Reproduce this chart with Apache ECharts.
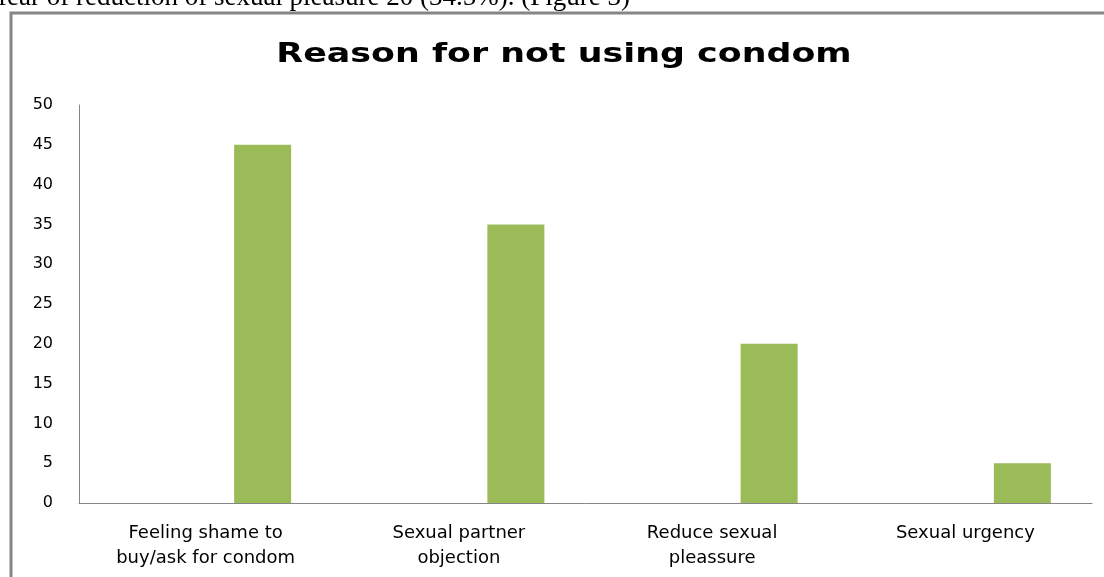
<!DOCTYPE html>
<html>
<head>
<meta charset="utf-8">
<style>
  html, body { margin: 0; padding: 0; background: #fff; }
  #chart { width: 1104px; height: 577px; }
</style>
<script src="https://cdn.jsdelivr.net/npm/echarts@6/dist/echarts.min.js"></script>
</head>
<body>
<div id="chart"></div>
<script>
var categories = ['Feeling shame to\nbuy/ask for condom', 'Sexual partner\nobjection', 'Reduce sexual\npleassure', 'Sexual urgency'];
var series1Values = [null, null, null, null];
var series2Values = [null, null, null, null];
var series3Values = [45, 35, 20, 5];
var yTicks = { min: 0, max: 50, interval: 5 };
var titleText = 'Reason for not using condom';
var pageText = 'fear of reduction of sexual pleasure 20 (34.5%). (Figure 3)';

var chart = echarts.init(document.getElementById('chart'));
var labelFont = '"DejaVu Sans", Verdana, sans-serif';
chart.setOption({
  animation: false,
  backgroundColor: '#ffffff',
  graphic: [
    { type: 'rect', shape: { x: 11, y: 13, width: 1300, height: 800 }, style: { fill: 'none', stroke: '#868686', lineWidth: 3 }, z: 10 },
    { type: 'text', x: -2, y: 11, style: { text: pageText, font: '27px "Liberation Serif", "Times New Roman", serif', fill: '#000', verticalAlign: 'bottom' }, z: 10 },
    { type: 'text', x: 564, y: 55, scaleX: 1.29, style: { text: titleText, font: 'bold 27px "DejaVu Sans", sans-serif', fill: '#000', align: 'center', verticalAlign: 'middle' }, z: 10 }
  ],
  grid: { left: 79, right: 12, top: 105, bottom: 74, containLabel: false },
  xAxis: {
    type: 'category',
    data: categories,
    axisLine: { show: true, lineStyle: { color: '#868686', width: 1 } },
    axisTick: { show: false },
    axisLabel: { interval: 0, margin: 18, fontFamily: labelFont, fontSize: 18, color: '#000', lineHeight: 25 }
  },
  yAxis: {
    type: 'value',
    min: yTicks.min, max: yTicks.max, interval: yTicks.interval,
    axisLine: { show: true, lineStyle: { color: '#868686', width: 1 } },
    axisTick: { show: false },
    splitLine: { show: false },
    axisLabel: { margin: 26, fontFamily: labelFont, fontSize: 16, color: '#000' }
  },
  series: [
    { type: 'bar', data: series1Values, barWidth: 57, barGap: '0%', itemStyle: { color: '#4f81bd' } },
    { type: 'bar', data: series2Values, barWidth: 57, barGap: '0%', itemStyle: { color: '#c0504d' } },
    { type: 'bar', data: series3Values, barWidth: 57, barGap: '0%', itemStyle: { color: '#9bbb59' } }
  ]
});
</script>
</body>
</html>
